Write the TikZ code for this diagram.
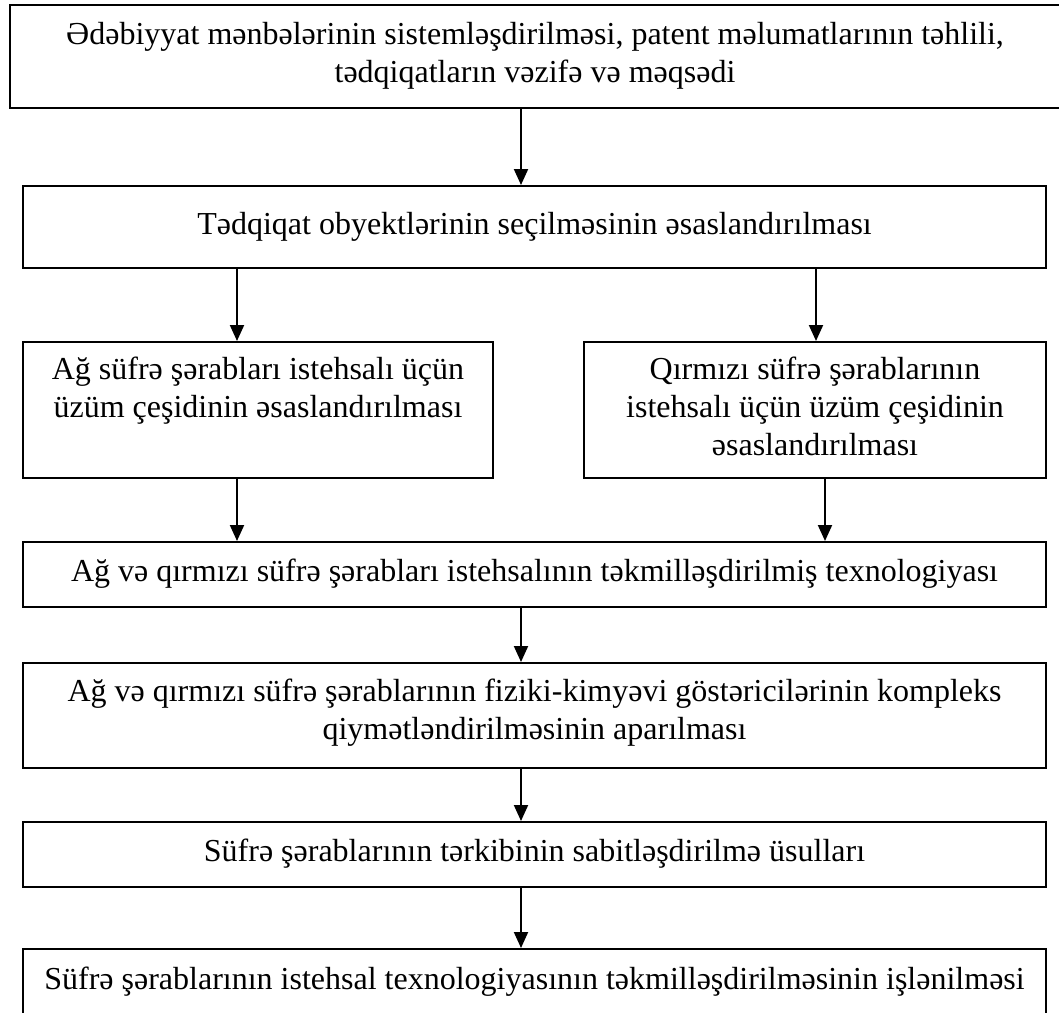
\documentclass[tikz,border=0pt]{standalone}
\usepackage{fontspec}
\setmainfont{Liberation Serif}
\usetikzlibrary{arrows.meta}

\begin{document}
\begin{tikzpicture}
		[x=0.5pt,y=-0.5pt,
		box/.style={shape=rectangle,draw,line width=1pt,inner sep=0pt,minimum width=511.5pt},
		lab/.style={anchor=base,align=center,inner sep=0pt,font=\fontsize{16}{19}\selectfont},
		arr/.style={line width=1pt,-{Triangle[length=8pt,width=7pt]}}
		]
		\useasboundingbox (0,0) rectangle (1059,1012);
		\clip (0,0) rectangle (1059,1012);
		
		% columns of the arrows
		\coordinate (mid) at (521,0);
		\coordinate (lcol) at (237,0);
		\coordinate (rcol) at (816,0);
		\coordinate (rcolb) at (825,0);
		
		% base of a label = its last line
		\node [box][minimum width=525pt,minimum height=51.5pt]
		[label={[lab,yshift=-39pt]north:{Ədəbiyyat mənbələrinin sistemləşdirilməsi, patent məlumatlarının təhlili,\\tədqiqatların vəzifə və məqsədi}}] (b1) at (535,56.5) {};
		\node [box][minimum height=41pt]
		[label={[lab,yshift=-24.5pt]north:{Tədqiqat obyektlərinin seçilməsinin əsaslandırılması}}] (b2) at (534.5,227) {};
		\node [box][minimum width=235pt,minimum height=68pt]
		[label={[lab,yshift=-38pt]north:{Ağ süfrə şərabları istehsalı üçün\\üzüm çeşidinin əsaslandırılması}}] (b3) at (258,410) {};
		\node [box][minimum width=231pt,minimum height=68pt]
		[label={[lab,yshift=-57pt]north:{Qırmızı süfrə şərablarının\\istehsalı üçün üzüm çeşidinin\\əsaslandırılması}}] (b4) at (815,410) {};
		\node [box][minimum height=32.5pt]
		[label={[lab,yshift=-20pt]north:{Ağ və qırmızı süfrə şərabları istehsalının təkmilləşdirilmiş texnologiyası}}] (b5) at (534.5,574.5) {};
		\node [box][minimum height=52.5pt]
		[label={[lab,yshift=-38.5pt]north:{Ağ və qırmızı süfrə şərablarının fiziki-kimyəvi göstəricilərinin kompleks\\qiymətləndirilməsinin aparılması}}] (b6) at (534.5,715.5) {};
		\node [box][minimum height=32.5pt]
		[label={[lab,yshift=-20pt]north:{Süfrə şərablarının tərkibinin sabitləşdirilmə üsulları}}] (b7) at (534.5,854.5) {};
		\node [box][minimum height=45.5pt]
		[label={[lab,yshift=-20.5pt]north:{Süfrə şərablarının istehsal texnologiyasının təkmilləşdirilməsinin işlənilməsi}}] (b8) at (534.5,994.5) {};
		
		\draw [arr] (b1.south -| mid) -- (b2.north -| mid);
		\draw [arr] (b2.south -| lcol) -- (b3.north -| lcol);
		\draw [arr] (b2.south -| rcol) -- (b4.north -| rcol);
		\draw [arr] (b3.south -| lcol) -- (b5.north -| lcol);
		\draw [arr] (b4.south -| rcolb) -- (b5.north -| rcolb);
		\draw [arr] (b5.south -| mid) -- (b6.north -| mid);
		\draw [arr] (b6.south -| mid) -- (b7.north -| mid);
		\draw [arr] (b7.south -| mid) -- (b8.north -| mid);
		
\end{tikzpicture}
\end{document}
